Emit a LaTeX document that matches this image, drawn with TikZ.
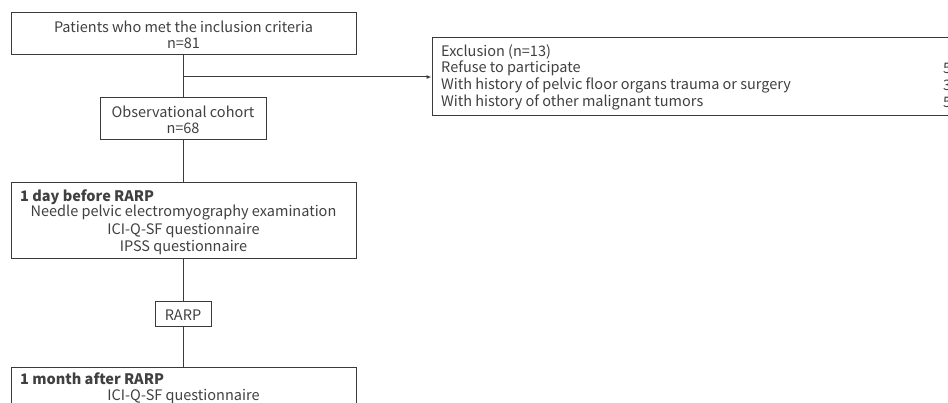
\documentclass[tikz,border=0pt]{standalone}
\usepackage{fontspec}
\setmainfont{Noto Sans CJK SC}
\usetikzlibrary{arrows.meta}
\definecolor{ln}{HTML}{3A3A3A}
\definecolor{tx}{HTML}{404040}
\begin{document}
\begin{tikzpicture}[x=1pt,y=-1pt,
  box/.style={draw=ln,line width=1pt,inner sep=0pt,minimum width=#1},
  lbl/.style={text=tx,font=\fontsize{14.5}{16}\selectfont,inner sep=0pt},
  blbl/.style={text=tx,font=\fontsize{14.5}{16}\selectfont\bfseries,inner sep=0pt},
  conn/.style={draw=ln,line width=1pt}]
\useasboundingbox (0,0) rectangle (948,403);
\clip (0,0) rectangle (948,403);
\node[box=345pt,minimum height=42pt] (top) at (183.5,34) {};
\node[lbl] (t1) at (183.5,27) {Patients who met the inclusion criteria};
\node[lbl] (t2) at (183.5,43) {n=81};
\node[box=166pt,minimum height=42pt] (coh) at (183,119) {};
\node[lbl] (c1) at (183,112) {Observational cohort};
\node[lbl] (c2) at (183,128) {n=68};
\node[box=568pt,minimum height=78pt] (exc) at (716,77) {};
\node[lbl,anchor=west] (e1) at (441,52) {Exclusion (n=13)};
\node[lbl,anchor=west] (e2) at (441,68) {Refuse to participate};
\node[lbl,anchor=west] (e3) at (441,85) {With history of pelvic floor organs trauma or surgery};
\node[lbl,anchor=west] (e4) at (441,102) {With history of other malignant tumors};
\node[lbl,anchor=west] (n2) at (943,68) {5};
\node[lbl,anchor=west] (n3) at (943,85) {3};
\node[lbl,anchor=west] (n4) at (943,102) {5};
\node[box=345pt,minimum height=76pt] (pre) at (183.5,221) {};
\node[blbl,anchor=west] (p1) at (20,197) {1 day before RARP};
\node[lbl] (p2) at (183.5,213) {Needle pelvic electromyography examination};
\node[lbl] (p3) at (183.5,231) {ICI-Q-SF questionnaire};
\node[lbl] (p4) at (183.5,248) {IPSS questionnaire};
\node[box=56pt,minimum height=25pt] (rarp) at (183,314.5) {};
\node[lbl] (r1) at (183,315) {RARP};
\node[box=345pt,minimum height=80pt] (post) at (183.5,407) {};
\node[blbl,anchor=west] (q1) at (20,379) {1 month after RARP};
\node[lbl] (q2) at (183.5,397) {ICI-Q-SF questionnaire};
\coordinate (br) at (183,77);
\draw[conn] (top.south -| coh.north) -- (coh.north);
\draw[conn,-{Latex[length=5pt,width=4pt]}] (br) -- (br -| exc.west);
\draw[conn] (coh.south) -- (coh.south |- pre.north);
\draw[conn] (pre.south -| rarp.north) -- (rarp.north);
\draw[conn] (rarp.south) -- (rarp.south |- post.north);
\end{tikzpicture}
\end{document}
